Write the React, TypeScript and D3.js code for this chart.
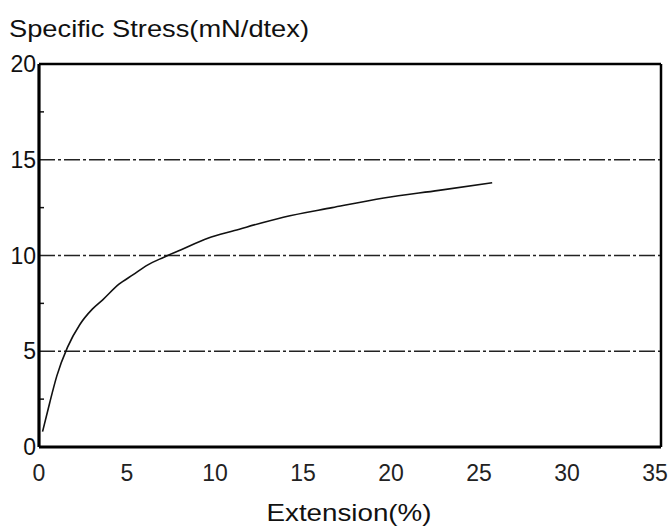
import * as d3 from 'd3';
import { useEffect, useRef } from 'react';

// Extension (%) vs specific stress (mN/dtex)
const extension = [0.2, 0.6, 1.0, 1.6, 2.3, 3.0, 3.6, 4.5, 5.3, 6.1, 7.0, 8.0, 9.5, 11, 13.75, 16.5, 19.4, 22.5, 25.5];
const stress = [0.8, 2.3, 3.7, 5.2, 6.4, 7.2, 7.7, 8.5, 9.0, 9.5, 9.9, 10.3, 10.9, 11.3, 12.0, 12.5, 13.0, 13.4, 13.8];

const xTicks = [0, 5, 10, 15, 20, 25, 30, 35];
const yTicks = [0, 5, 10, 15, 20];
const gridValues = [5, 10, 15];
const minorY = [2.5, 7.5, 12.5, 17.5];

export default function App() {
  const ref = useRef<SVGSVGElement>(null);

  useEffect(() => {
    const svg = d3.select(ref.current);
    svg.selectAll('*').remove();

    const W = 669;
    const H = 527;
    const x = d3.scaleLinear().domain([0, 35]).range([39, 661]);
    const y = d3.scaleLinear().domain([0, 20]).range([447, 64]);
    const font = 'Liberation Sans, Arial, sans-serif';

    svg.append('rect').attr('width', W).attr('height', H).attr('fill', '#fff');

    // Title
    svg
      .append('text')
      .attr('x', 9)
      .attr('y', 37)
      .attr('font-family', font)
      .attr('font-size', 24)
      .attr('textLength', 300)
      .attr('lengthAdjust', 'spacingAndGlyphs')
      .attr('fill', '#111')
      .text('Specific Stress(mN/dtex)');

    // Grid lines (dash-dot)
    svg
      .append('g')
      .selectAll('line')
      .data(gridValues)
      .join('line')
      .attr('x1', x(0))
      .attr('x2', x(35))
      .attr('y1', (d) => y(d))
      .attr('y2', (d) => y(d))
      .attr('stroke', '#222')
      .attr('stroke-width', 1.6)
      .attr('stroke-dasharray', '16,3,3,3');

    // minor ticks on left axis
    svg
      .append('g')
      .selectAll('line')
      .data(minorY)
      .join('line')
      .attr('x1', x(0))
      .attr('x2', x(0) + 5)
      .attr('y1', (d) => y(d))
      .attr('y2', (d) => y(d))
      .attr('stroke', '#111')
      .attr('stroke-width', 1.5);

    // Curve
    const pts = extension.map((e, i) => [e, stress[i]] as [number, number]);
    const line = d3
      .line<[number, number]>()
      .x((d) => x(d[0]))
      .y((d) => y(d[1]))
      .curve(d3.curveMonotoneX);
    svg
      .append('path')
      .datum(pts)
      .attr('d', line)
      .attr('fill', 'none')
      .attr('stroke', '#111')
      .attr('stroke-width', 1.6);

    // Frame
    const frame = svg.append('g').attr('stroke', '#000').attr('fill', 'none');
    frame.append('line').attr('x1', x(0)).attr('x2', x(35)).attr('y1', y(20)).attr('y2', y(20)).attr('stroke-width', 2.5);
    frame.append('line').attr('x1', x(0)).attr('x2', x(35)).attr('y1', y(0)).attr('y2', y(0)).attr('stroke-width', 3.2);
    frame.append('line').attr('x1', x(0)).attr('x2', x(0)).attr('y1', y(20)).attr('y2', y(0)).attr('stroke-width', 3.2);
    frame.append('line').attr('x1', x(35)).attr('x2', x(35)).attr('y1', y(20)).attr('y2', y(0)).attr('stroke-width', 2.5);

    // Y tick labels
    svg
      .append('g')
      .selectAll('text')
      .data(yTicks)
      .join('text')
      .attr('x', 36)
      .attr('y', (d) => y(d) + 8)
      .attr('text-anchor', 'end')
      .attr('font-family', font)
      .attr('font-size', 23)
      .attr('fill', '#111')
      .text((d) => d);

    // X tick labels
    svg
      .append('g')
      .selectAll('text')
      .data(xTicks)
      .join('text')
      .attr('x', (d) => x(d) - (d / 35) * 6)
      .attr('y', 481)
      .attr('text-anchor', 'middle')
      .attr('font-family', font)
      .attr('font-size', 23)
      .attr('fill', '#222')
      .text((d) => d);

    // X axis title
    svg
      .append('text')
      .attr('x', 349)
      .attr('y', 521)
      .attr('text-anchor', 'middle')
      .attr('font-family', font)
      .attr('font-size', 24)
      .attr('textLength', 165)
      .attr('lengthAdjust', 'spacingAndGlyphs')
      .attr('fill', '#111')
      .text('Extension(%)');
  }, []);

  return (
    <svg
      ref={ref}
      width={669}
      height={527}
      style={{ position: 'absolute', left: 0, top: 0, display: 'block' }}
    />
  );
}
